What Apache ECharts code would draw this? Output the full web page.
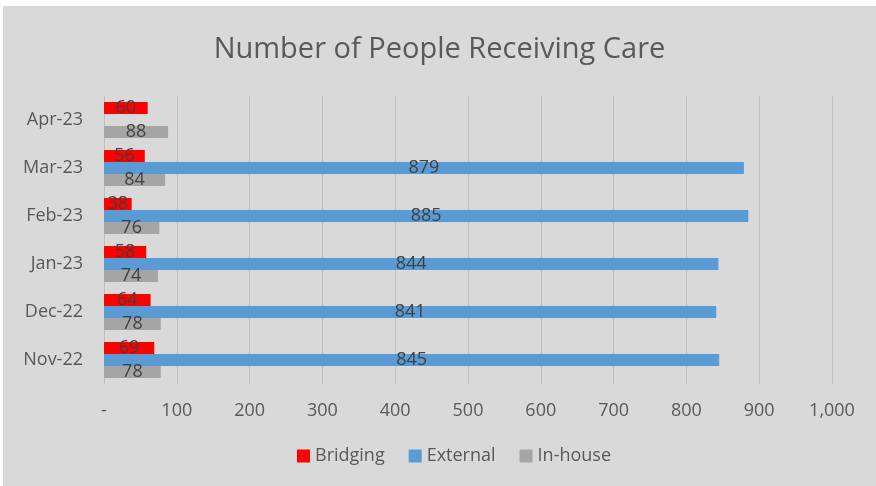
<!DOCTYPE html>
<html><head><meta charset="utf-8">
<script src="https://cdn.jsdelivr.net/npm/echarts@6/dist/echarts.min.js"></script>
<style>
html,body{margin:0;padding:0;background:#fff;}
#c{position:absolute;left:3px;top:6px;width:873px;height:480px;background:#d9d9d9;}
</style></head>
<body><div id="c"></div>
<script>
const categories = ['Nov-22','Dec-22','Jan-23','Feb-23','Mar-23','Apr-23'];
const bridging = [69, 64, 58, 38, 56, 60];
const external = [845, 841, 844, 885, 879, null];
const inhouse = [78, 78, 74, 76, 84, 88];
const xTicks = {0:'-',100:'100',200:'200',300:'300',400:'400',500:'500',600:'600',700:'700',800:'800',900:'900',1000:'1,000'};

const font = '"Open Sans", "Liberation Sans", sans-serif';
const chart = echarts.init(document.getElementById('c'), null, {renderer:'canvas'});
const lbl = {show:true, position:'inside', color:'#404040', fontSize:18, fontFamily:font};
function ser(name, data, color){
  return {name, type:'bar', data, itemStyle:{color}, barGap:'0%', barCategoryGap:'25%', label:lbl};
}
chart.setOption({
  backgroundColor:'#d9d9d9',
  animation:false,
  title:{text:'Number of People Receiving Care', left:'center', top:24,
    textStyle:{fontFamily:font, fontSize:29, fontWeight:'normal', color:'#595959'}},
  legend:{data:['Bridging','External','In-house'], bottom:16, left:289, itemWidth:13, itemHeight:13, itemGap:24,
    icon:'rect', textStyle:{fontFamily:font, fontSize:18, color:'#595959'}},
  grid:{left:101, right:44, top:90, bottom:102},
  xAxis:{type:'value', min:0, max:1000, interval:100,
    axisLine:{show:false}, axisTick:{show:false},
    splitLine:{show:true, lineStyle:{color:'#bfbfbf', width:1}},
    axisLabel:{fontFamily:font, fontSize:18, color:'#595959', margin:18,
      formatter:v=>xTicks[v]}},
  yAxis:{type:'category', data:categories,
    axisLine:{show:true, lineStyle:{color:'#bfbfbf'}}, axisTick:{show:false},
    axisLabel:{fontFamily:font, fontSize:18, color:'#595959', margin:21}},
  series:[ser('Bridging', bridging, '#ff0000'), ser('External', external, '#5b9bd5'), ser('In-house', inhouse, '#a5a5a5')]
});
</script></body></html>
